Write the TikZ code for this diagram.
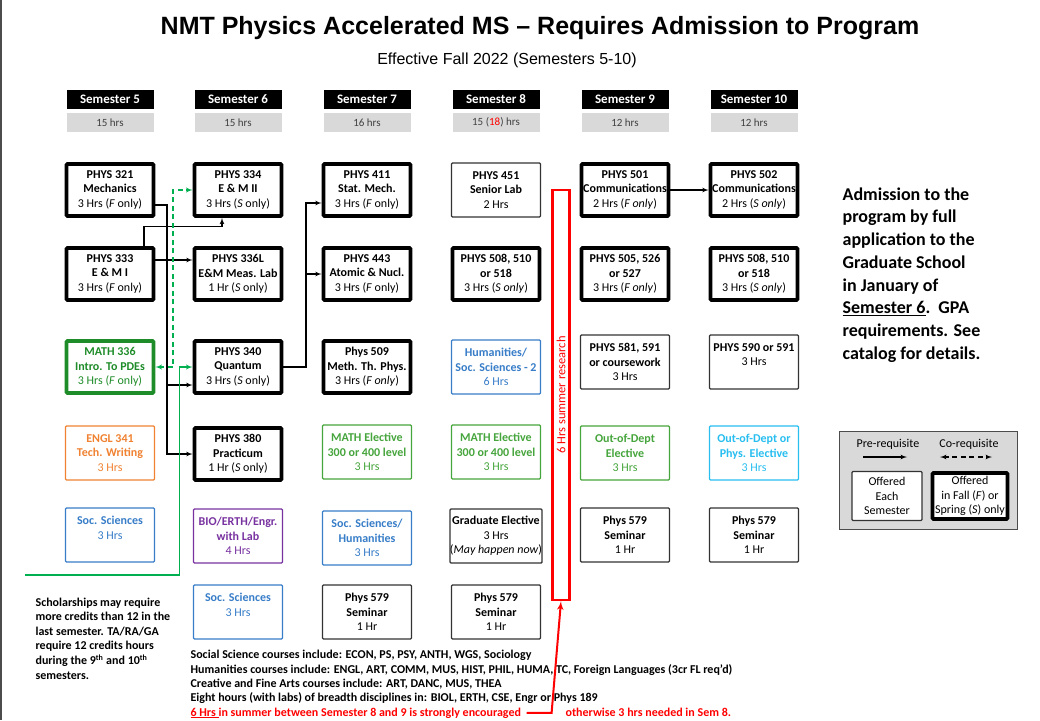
\documentclass[tikz,border=0pt]{standalone}
\usepackage{fontspec}
\setmainfont{Carlito}
\newfontfamily\arialfont{Liberation Sans}
\usetikzlibrary{arrows,positioning,calc}

\definecolor{hrgray}{RGB}{217,217,217}
\definecolor{mathgreen}{RGB}{30,140,40}
\definecolor{elecgreen}{RGB}{70,165,60}
\definecolor{linegreen}{RGB}{0,176,80}
\definecolor{englorange}{RGB}{240,130,50}
\definecolor{socblue}{RGB}{55,125,200}
\definecolor{biopurple}{RGB}{120,50,160}
\definecolor{physblue}{RGB}{40,190,240}

\newcommand{\crs}[3]{\textbf{#1}\\\textbf{#2}\\#3}
\newcommand{\crsb}[2]{\textbf{#1}\\#2\\\mbox{}}

\begin{document}
\begin{tikzpicture}[
  x=1pt, y=-1pt,
  font=\fontsize{11.5}{14.5}\selectfont,
  >=latex',
  line width=1.2pt,
  hdr/.style={fill=black, text=white, minimum width=87pt, minimum height=19pt, inner sep=0pt, font=\bfseries\fontsize{13}{15}\selectfont},
  hrs/.style={fill=hrgray, text=black!75, minimum width=87pt, minimum height=19pt, inner sep=0pt, font=\fontsize{11}{13}\selectfont},
  course/.style={rectangle, draw=black!80, line width=1.3pt, rounded corners=1pt, minimum width=89pt, minimum height=54pt, align=center, inner xsep=0pt, inner ysep=1pt, fill=white, font=\fontsize{12}{14.5}\selectfont, execute at begin node=\rule{0pt}{12pt}},
  req/.style={course, draw=black, line width=3.6pt, minimum width=87pt, minimum height=52pt},
  mreq/.style={req, draw=mathgreen, text=mathgreen},
  engl/.style={course, draw=englorange, text=englorange},
  soc/.style={course, draw=socblue, text=socblue},
  bio/.style={course, draw=biopurple, text=biopurple},
  melec/.style={course, draw=elecgreen, text=elecgreen},
  pelec/.style={course, draw=physblue, text=physblue},
  pre/.style={->, black, line width=1.2pt},
  coreq/.style={<->, dash pattern=on 5pt off 3.5pt, draw=linegreen, line width=1.3pt},
  gpre/.style={->, draw=linegreen, line width=1.3pt},
  sumbox/.style={draw=red, line width=2.2pt, minimum width=410pt, minimum height=17pt, rotate=90, text=red, inner sep=0pt, font=\fontsize{12.5}{14}\selectfont},
  redarr/.style={->, draw=red, line width=2pt},
  note/.style={anchor=base west, inner sep=0pt, font=\bfseries\fontsize{12}{14}\selectfont},
  legbox/.style={draw=black!70, fill=hrgray, line width=1pt, minimum width=178pt, minimum height=98pt},
  lfont/.style={font=\fontsize{12}{14}\selectfont, inner sep=0pt}
]
\useasboundingbox (0,0) rectangle (1040,720);
\draw[black!70, line width=1.5pt] (1,0) -- (1,720);

\node[font=\arialfont\bfseries\fontsize{25}{30}\selectfont] (title) at (540,28) {NMT Physics Accelerated MS – Requires Admission to Program};
\node[font=\arialfont\fontsize{16}{19}\selectfont] (subtitle) at (507,60) {Effective Fall 2022 (Semesters 5-10)};

\foreach \s/\x/\h in {5/110/15 hrs, 6/238/15 hrs, 7/367/16 hrs, 8/496/{15 (\textcolor{red}{18}) hrs}, 9/625/12 hrs, 10/754/12 hrs} {
  \node[hdr] (hd\s) at (\x,99.5) {Semester \s};
  \node[hrs] (hr\s) at (\x,122.5) {\h};
}

% Semester 5
\node[req] (p321) at (110,190) {\crs{PHYS 321}{Mechanics}{3 Hrs (\textit{F} only)}};
\node[req] (p333) at (110,274) {\crs{PHYS 333}{E \& M I}{3 Hrs (\textit{F} only)}};
\node[mreq] (m336) at (110,367) {\crs{MATH 336}{Intro. To PDEs}{3 Hrs (\textit{F} only)}};
\node[engl] (e341) at (110,453) {\crs{ENGL 341}{Tech. Writing}{3 Hrs}};
\node[soc] (soc5) at (110,535) {\crsb{Soc. Sciences}{3 Hrs}};

% Semester 6
\node[req] (p334) at (238,190) {\crs{PHYS 334}{E \& M II}{3 Hrs (\textit{S} only)}};
\node[req] (p336) at (238,274) {\crs{PHYS 336L}{E\&M Meas. Lab}{1 Hr (\textit{S} only)}};
\node[req] (p340) at (238,367) {\crs{PHYS 340}{Quantum}{3 Hrs (\textit{S} only)}};
\node[req] (p380) at (238,454) {\crs{PHYS 380}{Practicum}{1 Hr (\textit{S} only)}};
\node[bio] (bio6) at (238,536) {\crs{BIO/ERTH/Engr.}{with Lab}{4 Hrs}};
\node[soc] (soc6) at (238,612) {\crsb{Soc. Sciences}{3 Hrs}};

% Semester 7
\node[req] (p411) at (367,190) {\crs{PHYS 411}{Stat. Mech.}{3 Hrs (\textit{F} only)}};
\node[req] (p443) at (367,274) {\crs{PHYS 443}{Atomic \& Nucl.}{3 Hrs (\textit{F} only)}};
\node[req] (p509) at (367,367) {\crs{Phys 509}{Meth. Th. Phys.}{3 Hrs (\textit{F only})}};
\node[melec] (me7) at (367,452) {\crs{MATH Elective}{300 or 400 level}{3 Hrs}};
\node[soc] (sh7) at (367,538) {\crs{Soc. Sciences/}{Humanities}{3 Hrs}};
\node[course] (sem7) at (367,612) {\crs{Phys 579}{Seminar}{1 Hr}};

% Semester 8
\node[course] (p451) at (496,190) {\crs{PHYS 451}{Senior Lab}{2 Hrs}};
\node[req] (p508a) at (496,274) {\crs{PHYS 508, 510}{or 518}{3 Hrs (\textit{S only})}};
\node[soc] (hs8) at (496,367) {\crs{Humanities/}{Soc. Sciences - 2}{6 Hrs}};
\node[melec] (me8) at (496,452) {\crs{MATH Elective}{300 or 400 level}{3 Hrs}};
\node[course] (ge8) at (496,536) {\textbf{Graduate Elective}\\3 Hrs\\(\textit{May happen now})};
\node[course] (sem8) at (496,612) {\crs{Phys 579}{Seminar}{1 Hr}};

% Semester 9
\node[req] (p501) at (625,190) {\crs{PHYS 501}{Communications}{2 Hrs (\textit{F only})}};
\node[req] (p505) at (625,274) {\crs{PHYS 505, 526}{or 527}{3 Hrs (\textit{F only})}};
\node[course] (p581) at (625,362) {\crs{PHYS 581, 591}{or coursework}{3 Hrs}};
\node[melec] (oe9) at (625,453) {\crs{Out-of-Dept}{Elective}{3 Hrs}};
\node[course] (sem9) at (625,535) {\crs{Phys 579}{Seminar}{1 Hr}};

% Semester 10
\node[req] (p502) at (754,190) {\crs{PHYS 502}{Communications}{2 Hrs (\textit{S only})}};
\node[req] (p508b) at (754,274) {\crs{PHYS 508, 510}{or 518}{3 Hrs (\textit{S only})}};
\node[course] (p590) at (754,362) {\crsb{PHYS 590 or 591}{3 Hrs}};
\node[pelec] (pe10) at (754,453) {\crs{Out-of-Dept or}{Phys. Elective}{3 Hrs}};
\node[course] (sem10) at (754,535) {\crs{Phys 579}{Seminar}{1 Hr}};

% summer research
\node[sumbox] (sr) at (561,395) {6 Hrs summer research};

% prerequisites
\coordinate (b1) at (167,205);
\coordinate (b2) at (306,203);
\coordinate (g1) at (173,0);
\coordinate (g0) at (25,575);
\coordinate (q340) at ([yshift=-18pt]p340.west);
\draw[pre] ([yshift=-15pt]p321.east) -- (b1) |- (p380.west);
\draw[pre] (b1 |- q340) -- (q340);
\draw[pre] ([xshift=34pt]p333.north) |- ([xshift=-16pt,yshift=-9pt]p334.south) -- ([xshift=-16pt]p334.south);
\draw[pre] ([yshift=14pt]p333.east) -- ([yshift=14pt]p336.west);
\draw[coreq] (m336.east) -- (m336.east -| g1) |- (p334.west);
\draw[gpre] (g0) -| ([xshift=-13pt]p340.west) -- (p340.west);
\draw[pre] (p340.east) -| (b2) -- ([yshift=-13pt]p411.west);
\draw[pre] (b2 |- p443.west) -- (p443.west);
\draw[pre] (p501) -- (p502);

% admission text
\node[font=\bfseries\fontsize{18}{22.7}\selectfont, align=left, anchor=north west, inner sep=0pt] (adm) at (842,187) {Admission to the\\program by full\\application to the\\Graduate School\\in January of\\\underline{Semester 6}.\ \ GPA\\requirements. See\\catalog for details.};

% legend
\node[legbox] (leg) at (928,480) {};
\node[lfont] (lpre) at (888,444) {Pre-requisite};
\node[lfont] (lco) at (969,444) {Co-requisite};
\coordinate (la) at (863,457);
\coordinate (lb) at (907,457);
\coordinate (lc) at (940,457);
\coordinate (ld) at (992,457);
\draw[pre] (la) -- (lb);
\draw[<->, dash pattern=on 5pt off 3.5pt, line width=1.2pt] (lc) -- (ld);
\node[course, minimum width=70pt, minimum height=49pt] (leach) at (887,496) {Offered\\Each\\Semester};
\node[req, minimum width=75pt, minimum height=46pt] (lfs) at (970,496) {Offered\\in Fall (\textit{F}) or\\Spring (\textit{S}) only};

% notes
\node[font=\bfseries\fontsize{12}{14.6}\selectfont, align=left, anchor=north west, inner sep=0pt] (schol) at (35,597) {Scholarships may require\\more credits than 12 in the\\last semester. TA/RA/GA\\require 12 credits hours\\during the 9\textsuperscript{th} and 10\textsuperscript{th}\\semesters.};
\node[note] (inc1) at (190,658) {Social Science courses include: ECON, PS, PSY, ANTH, WGS, Sociology};
\node[note] (inc2) at (190,673) {Humanities courses include: ENGL, ART, COMM, MUS, HIST, PHIL, HUMA, TC, Foreign Languages (3cr FL req'd)};
\node[note] (inc3) at (190,687) {Creative and Fine Arts courses include: ART, DANC, MUS, THEA};
\node[note] (inc4) at (190,701) {Eight hours (with labs) of breadth disciplines in: BIOL, ERTH, CSE, Engr or Phys 189};
\node[note, text=red] (enc) at (190,716) {\underline{6 Hrs }in summer between Semester 8 and 9 is strongly encouraged};
\node[note, text=red] (oth) at (565,716) {otherwise 3 hrs needed in Sem 8.};
\draw[redarr] ([xshift=5pt]enc.east) -- ++(25,0) -- (sr.west);

\end{tikzpicture}
\end{document}
